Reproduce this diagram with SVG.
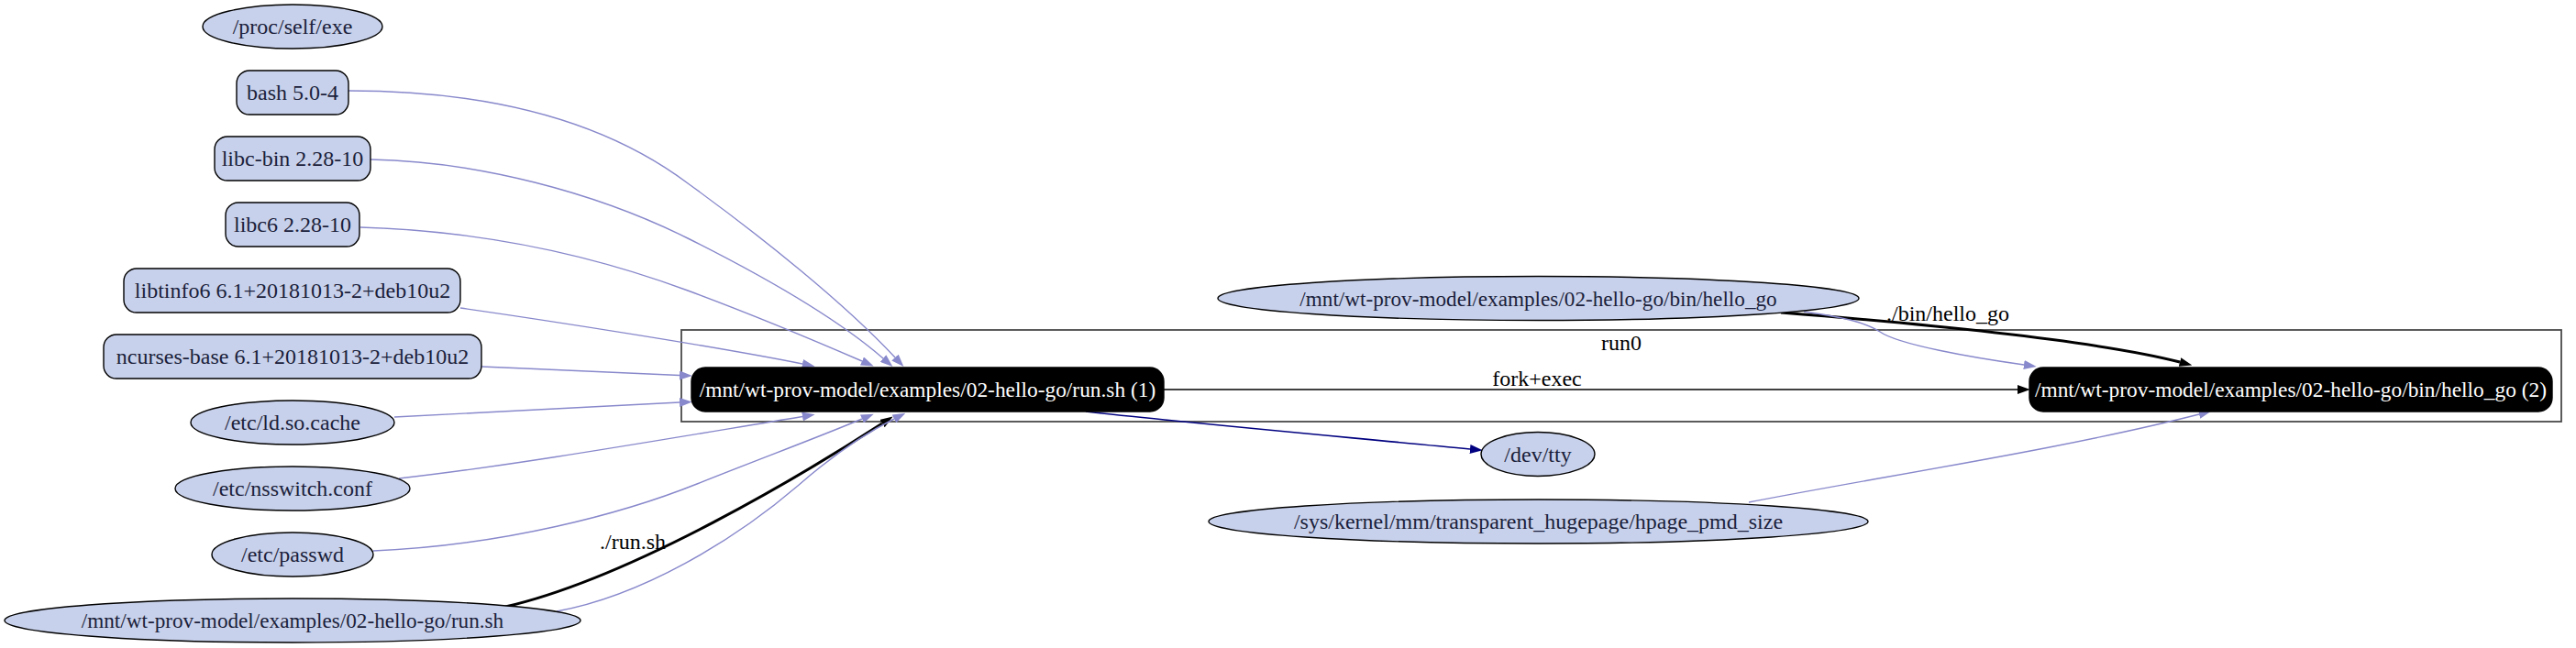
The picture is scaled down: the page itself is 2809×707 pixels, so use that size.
<svg xmlns="http://www.w3.org/2000/svg" width="2809" height="707" viewBox="0 0 2809 707">
<style>
.bg{fill:#ffffff}
.f{fill:#c8d1eb;stroke:#000;stroke-width:1.4}
.p{fill:#000;stroke:#000;stroke-width:1.4}
.t{font-family:"Liberation Serif","Times New Roman",serif;font-size:24px;text-anchor:middle;fill:#1b1f3b}
.sm{font-size:23.2px}
.tw{font-family:"Liberation Serif","Times New Roman",serif;font-size:23.4px;text-anchor:middle;fill:#ffffff}
.tl{font-family:"Liberation Serif","Times New Roman",serif;font-size:24px;text-anchor:middle;fill:#000}
.lav{fill:none;stroke:#8888cc;stroke-width:1.4;marker-end:url(#mLav)}
.blk{fill:none;stroke:#000;stroke-width:1.4;marker-end:url(#mBlk)}
.bold{fill:none;stroke:#000;stroke-width:3;marker-end:url(#mBlk)}
.nav{fill:none;stroke:#000080;stroke-width:1.6;marker-end:url(#mNav)}
.cl{fill:none;stroke:#4a4a4a;stroke-width:1.8}
</style>
<defs>
<marker id="mLav" markerUnits="userSpaceOnUse" markerWidth="14" markerHeight="10" viewBox="0 0 13 9.4" refX="0" refY="4.7" orient="auto"><path d="M0,0 L13,4.7 L0,9.4 z" fill="#8888cc"/></marker>
<marker id="mBlk" markerUnits="userSpaceOnUse" markerWidth="14" markerHeight="10" viewBox="0 0 13 9.4" refX="0" refY="4.7" orient="auto"><path d="M0,0 L13,4.7 L0,9.4 z" fill="#000"/></marker>
<marker id="mNav" markerUnits="userSpaceOnUse" markerWidth="14" markerHeight="10" viewBox="0 0 13 9.4" refX="0" refY="4.7" orient="auto"><path d="M0,0 L13,4.7 L0,9.4 z" fill="#000080"/></marker>
</defs>
<rect class="bg" x="0" y="0" width="2809" height="707"/>

<g id="cluster_run0">
<rect class="cl" x="743" y="360" width="2050" height="100"/>
<text class="tl" x="1768" y="382">run0</text>
</g>

<g id="edges">
<path class="lav" d="M380,99 C520,99 650,125 750,200 C830,258 920,330 976,390"/>
<path class="lav" d="M404,174 C520,176 650,210 750,260 C830,300 910,345 963,391"/>
<path class="lav" d="M393,248 C530,252 650,280 750,317 C820,343 880,368 940,394"/>
<path class="lav" d="M502,336 C600,350 780,378 875,397"/>
<path class="lav" d="M525,400 C600,403 680,407 741,409.5"/>
<path class="lav" d="M430,455 C550,449 650,443 741,439"/>
<path class="lav" d="M435,522 C560,508 720,480 875,454.5"/>
<path class="lav" d="M407,601 C550,595 680,560 760,528 C830,500 890,478 940,457"/>
<path class="bold" d="M551,662 C690,630 880,515 962,462"/>
<text class="tl" x="690" y="599">./run.sh</text>
<path class="lav" d="M607,667 C700,650 800,590 870,530 C910,495 945,472 975,457"/>
<path class="nav" d="M1184,449 C1300,462 1480,478 1603,490"/>
<path class="blk" d="M1269,425 L2200,425"/>
<text class="tl" x="1676" y="421">fork+exec</text>
<path class="bold" d="M1942,341 C2080,352 2280,370 2377,395"/>
<text class="tl" x="2124" y="350">./bin/hello_go</text>
<path class="lav" d="M1967,340 C2010,346 2035,352 2050,362 C2070,376 2150,390 2207,398"/>
<path class="lav" d="M1907,548 C2050,520 2250,490 2398,452"/>
</g>

<g id="n_proc_self_exe"><ellipse class="f" cx="319" cy="29" rx="98" ry="24"/><text class="t" x="319" y="37">/proc/self/exe</text></g>
<g id="n_bash"><rect class="f" x="258" y="77" width="122" height="48" rx="14"/><text class="t" x="319" y="109">bash 5.0-4</text></g>
<g id="n_libc_bin"><rect class="f" x="234" y="149" width="170" height="48" rx="14"/><text class="t" x="319" y="181">libc-bin 2.28-10</text></g>
<g id="n_libc6"><rect class="f" x="246" y="221" width="146" height="48" rx="14"/><text class="t" x="319" y="253">libc6 2.28-10</text></g>
<g id="n_libtinfo6"><rect class="f" x="135" y="293" width="367" height="48" rx="14"/><text class="t" x="319" y="325">libtinfo6 6.1+20181013-2+deb10u2</text></g>
<g id="n_ncurses_base"><rect class="f" x="113" y="365" width="412" height="48" rx="14"/><text class="t" x="319" y="397">ncurses-base 6.1+20181013-2+deb10u2</text></g>
<g id="n_ld_so_cache"><ellipse class="f" cx="319" cy="461" rx="111" ry="24"/><text class="t" x="319" y="469">/etc/ld.so.cache</text></g>
<g id="n_nsswitch"><ellipse class="f" cx="319" cy="533" rx="128" ry="24"/><text class="t" x="319" y="541">/etc/nsswitch.conf</text></g>
<g id="n_passwd"><ellipse class="f" cx="319" cy="605" rx="88" ry="24"/><text class="t" x="319" y="613">/etc/passwd</text></g>
<g id="n_run_sh_file"><ellipse class="f" cx="319" cy="677" rx="314" ry="24"/><text class="t sm" x="319" y="685">/mnt/wt-prov-model/examples/02-hello-go/run.sh</text></g>

<g id="n_hello_go_file"><ellipse class="f" cx="1677.5" cy="325.5" rx="349.5" ry="24"/><text class="t sm" x="1677.5" y="333.5">/mnt/wt-prov-model/examples/02-hello-go/bin/hello_go</text></g>
<g id="n_dev_tty"><ellipse class="f" cx="1677" cy="495.5" rx="62" ry="24"/><text class="t" x="1677" y="503.5">/dev/tty</text></g>
<g id="n_sys_hpage"><ellipse class="f" cx="1677.5" cy="569" rx="359.5" ry="24"/><text class="t" x="1677.5" y="577">/sys/kernel/mm/transparent_hugepage/hpage_pmd_size</text></g>

<g id="p_run_sh_1"><rect class="p" x="754" y="401" width="515" height="48" rx="15"/><text class="tw" x="1011.5" y="433">/mnt/wt-prov-model/examples/02-hello-go/run.sh (1)</text></g>
<g id="p_hello_go_2"><rect class="p" x="2213" y="401" width="570" height="48" rx="15"/><text class="tw" x="2498" y="433">/mnt/wt-prov-model/examples/02-hello-go/bin/hello_go (2)</text></g>
</svg>
